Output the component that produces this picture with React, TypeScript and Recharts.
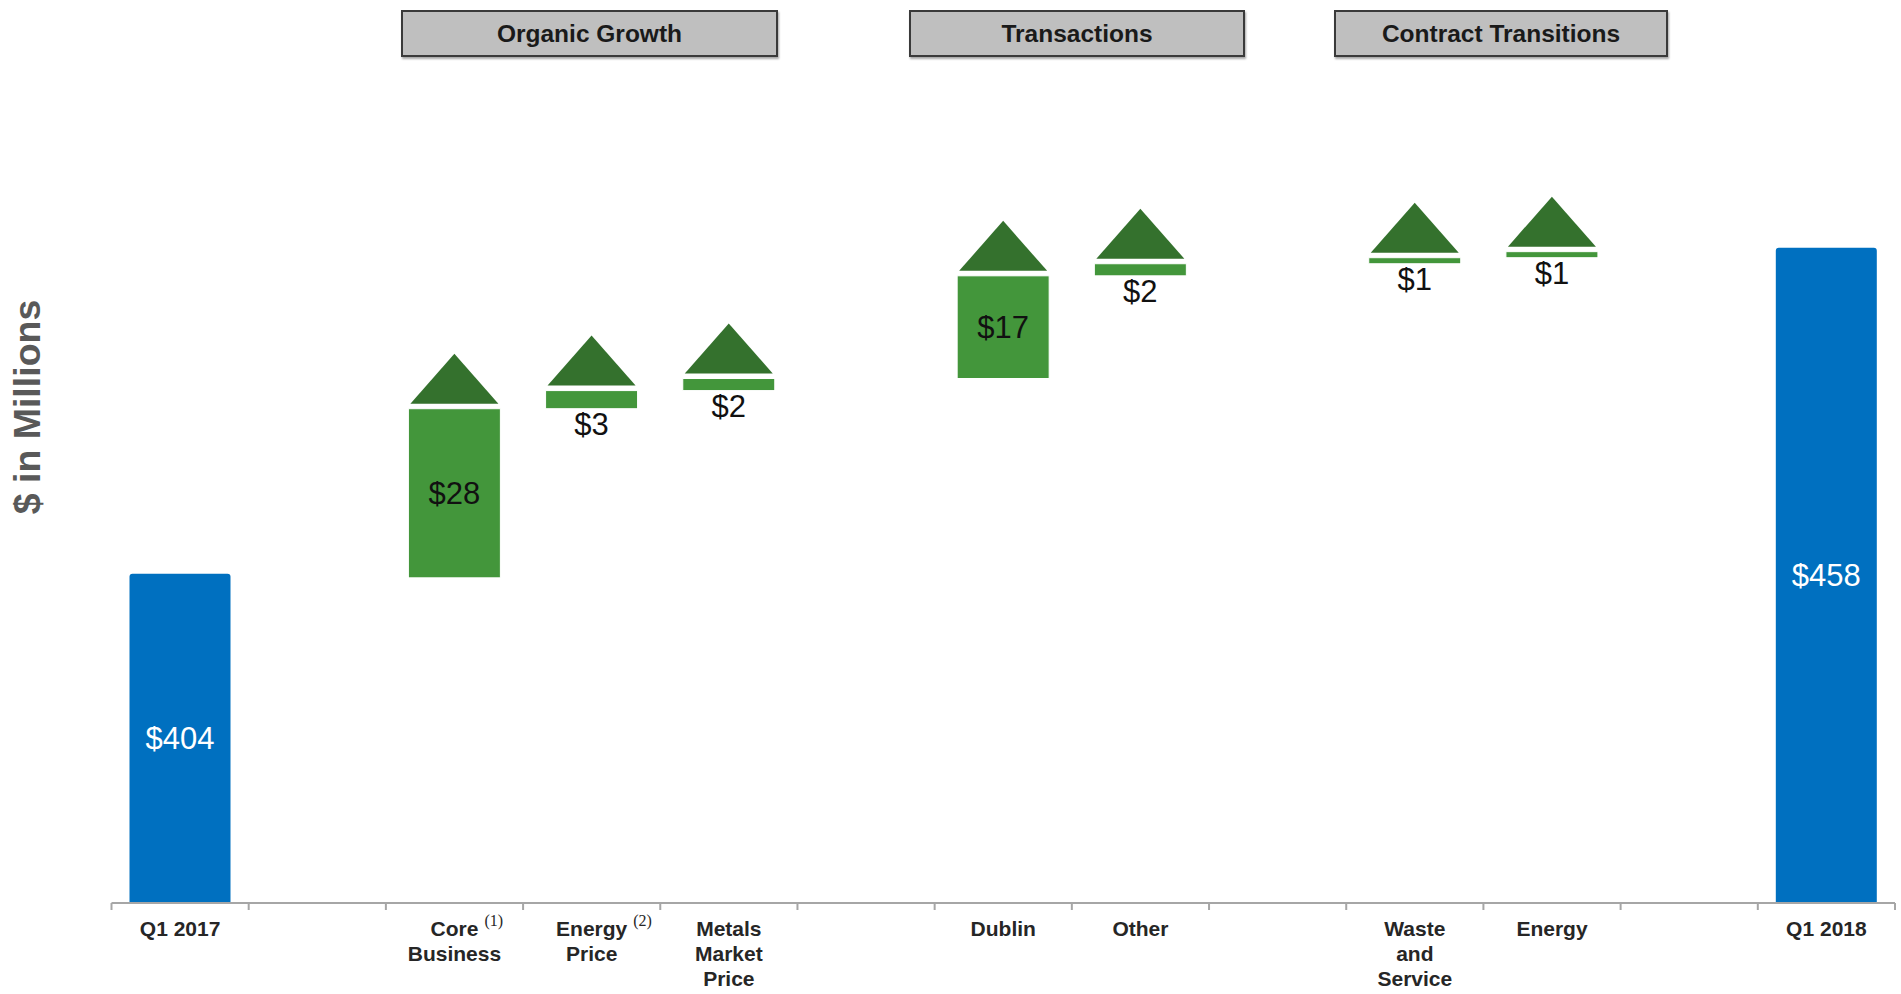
import { ComposedChart, Bar, XAxis, YAxis } from 'recharts';

// Waterfall: Q1 2017 -> Q1 2018 ($ in millions)
const slotKeys = ['q1-2017', 'gap-a', 'core', 'energy-price', 'metals', 'gap-b', 'dublin', 'other', 'gap-c', 'waste', 'energy', 'gap-d', 'q1-2018'];
const tickLabels = [
  ['Q1 2017'], [], ['Core', 'Business'], ['Energy', 'Price'], ['Metals', 'Market', 'Price'], [],
  ['Dublin'], ['Other'], [], ['Waste', 'and', 'Service'], ['Energy'], [], ['Q1 2018'],
];
const footnotes = ['', '', '(1)', '(2)', '', '', '', '', '', '', '', '', ''];
const stepKinds = ['total', 'gap', 'up', 'up', 'up', 'gap', 'up', 'up', 'gap', 'up', 'up', 'gap', 'total'];
const stepValues = [404, null, 28, 3, 2, null, 17, 2, null, 1, 1, null, 458];

const groupHeaders = [
  { name: 'Organic Growth', left: 401, width: 377 },
  { name: 'Transactions', left: 909, width: 336 },
  { name: 'Contract Transitions', left: 1334, width: 334 },
];

const Y_DOMAIN: [number, number] = [349.5, 480];

const W = 1901;
const H = 994;
const AXIS_Y = 903;
const PX_PER_UNIT = 6.04;
const PLOT_TOP = AXIS_Y - (Y_DOMAIN[1] - Y_DOMAIN[0]) * PX_PER_UNIT;
const PLOT_LEFT = 111.5;
const PLOT_RIGHT = 1895;
const SLOT = (PLOT_RIGHT - PLOT_LEFT) / slotKeys.length;
const X_AXIS_H = 80;

const BLUE = '#0070c0';
const GREEN = '#43963b';
const DARK_GREEN = '#34712d';
const AXIS_GRAY = '#a6a6a6';
const FONT = '"Liberation Sans", Arial, sans-serif';
const GREEN_SHIFT = 4; // the source draws the step bars a few px below the totals

let running = 0;
const data = slotKeys.map((key, i) => {
  const kind = stepKinds[i];
  const v = stepValues[i];
  if (kind === 'gap' || v == null) return { key, kind, value: null, range: null };
  if (kind === 'total') {
    running = v;
    return { key, kind, value: v, range: [Y_DOMAIN[0], v] };
  }
  const low = running;
  running += v;
  return { key, kind, value: v, range: [low, running] };
});

let measureCtx: CanvasRenderingContext2D | null = null;
function textWidth(s: string, font: string) {
  if (!measureCtx) measureCtx = document.createElement('canvas').getContext('2d');
  if (!measureCtx) return s.length * 11;
  measureCtx.font = font;
  return measureCtx.measureText(s).width;
}

function StepShape(props: any) {
  const { x, width, height, payload } = props;
  if (!payload || payload.range == null) return null;
  const cx = x + width / 2;
  if (payload.kind === 'total') {
    const y = props.y;
    const r = 3;
    const d = `M${x},${y + height} L${x},${y + r} Q${x},${y} ${x + r},${y} L${x + width - r},${y} Q${x + width},${y} ${x + width},${y + r} L${x + width},${y + height} Z`;
    return (
      <g>
        <path d={d} fill={BLUE} />
        <text x={cx} y={y + height / 2} textAnchor="middle" dominantBaseline="central" fill="#ffffff" fontSize={31} fontFamily={FONT}>
          {`$${payload.value}`}
        </text>
      </g>
    );
  }
  const y = props.y + GREEN_SHIFT;
  const bw = 92;
  const tw = 88;
  const th = 50;
  const tb = y - 5;
  const inside = height > 40;
  return (
    <g>
      <rect x={cx - bw / 2} y={y} width={bw} height={height} fill={GREEN} stroke="#ffffff" strokeWidth={1} />
      <polygon points={`${cx - tw / 2},${tb} ${cx + tw / 2},${tb} ${cx},${tb - th}`} fill={DARK_GREEN} />
      <text
        x={cx}
        y={inside ? y + height / 2 : y + height + 16}
        textAnchor="middle"
        dominantBaseline="central"
        fill="#111111"
        fontSize={31}
        fontFamily={FONT}
      >
        {`$${payload.value}`}
      </text>
    </g>
  );
}

function CategoryTick(props: any) {
  const { x, y, payload } = props;
  const i = slotKeys.indexOf(payload.value);
  const lines = tickLabels[i] || [];
  const note = footnotes[i];
  const half = SLOT / 2;
  const labelFont = `bold 21px ${FONT}`;
  const firstW = lines.length ? textWidth(lines[0], labelFont) : 0;
  return (
    <g>
      <line x1={x - half} y1={y} x2={x - half} y2={y + 7} stroke={AXIS_GRAY} strokeWidth={2} />
      {i === slotKeys.length - 1 && (
        <line x1={x + half} y1={y} x2={x + half} y2={y + 7} stroke={AXIS_GRAY} strokeWidth={2} />
      )}
      {lines.length > 0 && (
        <text x={x} y={y + 33} textAnchor="middle" fontFamily={FONT} fontSize={21} fontWeight="bold" fill="#262626">
          {lines.map((l, k) => (
            <tspan key={k} x={x} dy={k === 0 ? 0 : 25}>{l}</tspan>
          ))}
        </text>
      )}
      {note && (
        <text x={x + firstW / 2 + 6} y={y + 23} fontFamily='"Liberation Serif", "Times New Roman", serif' fontSize={16} fill="#262626">
          {note}
        </text>
      )}
    </g>
  );
}

export default function App() {
  return (
    <div style={{ position: 'absolute', left: 0, top: 0, width: W, height: H, background: '#ffffff', fontFamily: FONT }}>
      {groupHeaders.map((g) => (
        <div
          key={g.name}
          style={{
            position: 'absolute',
            left: g.left,
            top: 10,
            width: g.width,
            height: 47,
            boxSizing: 'border-box',
            background: '#bfbfbf',
            border: '2px solid #3a3a3a',
            boxShadow: '1px 2px 2px rgba(0,0,0,0.35)',
            display: 'flex',
            alignItems: 'center',
            justifyContent: 'center',
            fontWeight: 'bold',
            fontSize: 24.5,
            color: '#1a1a1a',
            zIndex: 2,
          }}
        >
          {g.name}
        </div>
      ))}
      <div
        style={{
          position: 'absolute',
          left: 27,
          top: 407,
          transform: 'translate(-50%, -50%) rotate(-90deg)',
          whiteSpace: 'nowrap',
          fontWeight: 'bold',
          fontSize: 37.5,
          color: '#595959',
          zIndex: 2,
        }}
      >
        $ in Millions
      </div>
      <div style={{ position: 'absolute', left: 0, top: 0 }}>
        <ComposedChart
          width={W}
          height={H}
          data={data}
          margin={{ top: PLOT_TOP, right: W - PLOT_RIGHT, bottom: H - AXIS_Y - X_AXIS_H, left: PLOT_LEFT }}
        >
          <XAxis
            dataKey="key"
            type="category"
            interval={0}
            height={X_AXIS_H}
            tickLine={false}
            tickSize={0}
            tickMargin={0}
            axisLine={{ stroke: AXIS_GRAY, strokeWidth: 2 }}
            tick={<CategoryTick />}
          />
          <YAxis hide type="number" domain={Y_DOMAIN} allowDataOverflow />
          <Bar dataKey="range" barSize={101} shape={<StepShape />} isAnimationActive={false} />
        </ComposedChart>
      </div>
    </div>
  );
}
